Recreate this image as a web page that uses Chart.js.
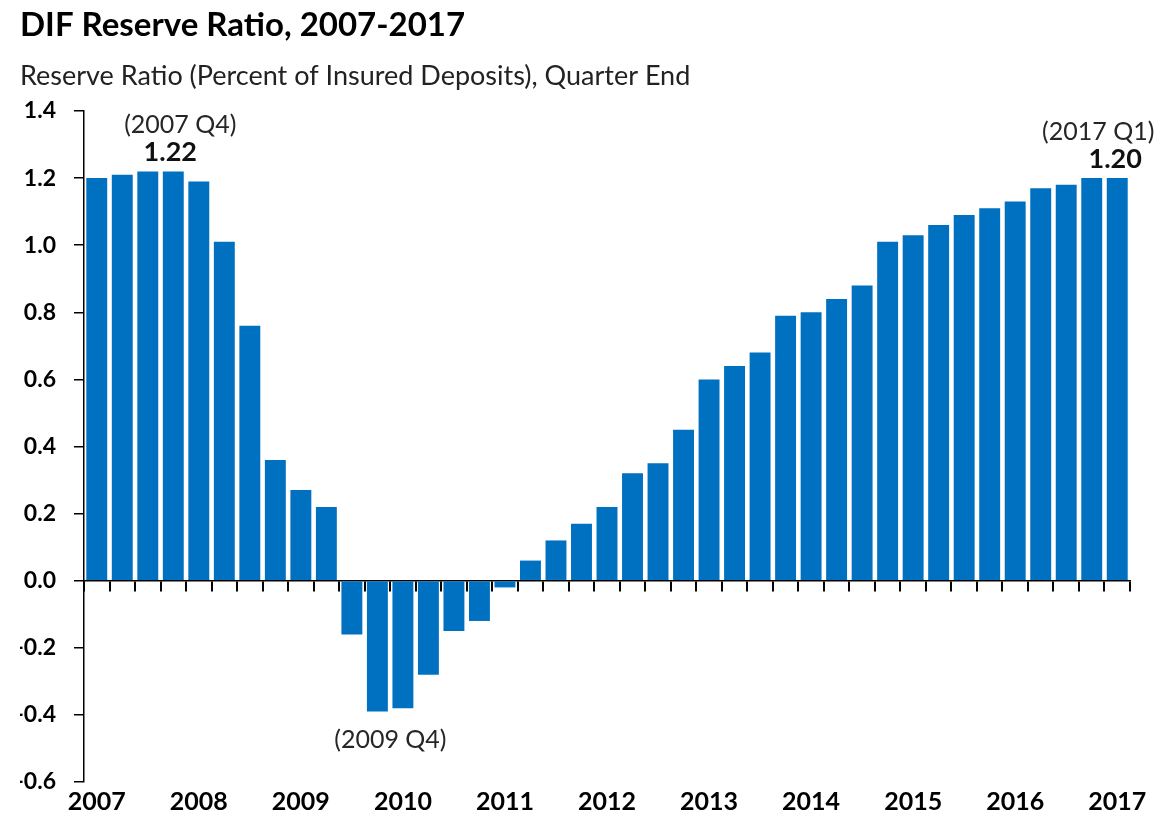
<!DOCTYPE html>
<html>
<head>
<meta charset="utf-8">
<title>DIF Reserve Ratio, 2007-2017</title>
<script src="https://cdn.jsdelivr.net/npm/chart.js@4.4.1/dist/chart.umd.min.js"></script>
<style>
  html, body { margin: 0; padding: 0; background: #fff; }
  #wrap { width: 1159px; height: 829px; position: relative; }
</style>
</head>
<body>
<div id="wrap"><canvas id="ratio-chart"></canvas></div>
<script>
// Quarter-end categories, 2007 Q1 .. 2017 Q1
const quarters = [
  '2007 Q1', '2007 Q2', '2007 Q3', '2007 Q4',
  '2008 Q1', '2008 Q2', '2008 Q3', '2008 Q4',
  '2009 Q1', '2009 Q2', '2009 Q3', '2009 Q4',
  '2010 Q1', '2010 Q2', '2010 Q3', '2010 Q4',
  '2011 Q1', '2011 Q2', '2011 Q3', '2011 Q4',
  '2012 Q1', '2012 Q2', '2012 Q3', '2012 Q4',
  '2013 Q1', '2013 Q2', '2013 Q3', '2013 Q4',
  '2014 Q1', '2014 Q2', '2014 Q3', '2014 Q4',
  '2015 Q1', '2015 Q2', '2015 Q3', '2015 Q4',
  '2016 Q1', '2016 Q2', '2016 Q3', '2016 Q4',
  '2017 Q1'
];

// Reserve ratio, percent of insured deposits
const reserveRatio = [
  1.20, 1.21, 1.22, 1.22,
  1.19, 1.01, 0.76, 0.36,
  0.27, 0.22, -0.16, -0.39,
  -0.38, -0.28, -0.15, -0.12,
  -0.02, 0.06, 0.12, 0.17,
  0.22, 0.32, 0.35, 0.45,
  0.60, 0.64, 0.68, 0.79,
  0.80, 0.84, 0.88, 1.01,
  1.03, 1.06, 1.09, 1.11,
  1.13, 1.17, 1.18, 1.20,
  1.20
];

// Y axis range / tick step
const yMin = -0.6;
const yMax = 1.4;
const yStep = 0.2;

// Callouts: which bar, the period text and (optionally) the value text
const callouts = [
  { index: 3, period: '(2007 Q4)', value: '1.22', side: 'top', dx: 7, valueDx: -3 },
  { index: 11, period: '(2009 Q4)', value: null, side: 'bottom', dx: 13, valueDx: 0 },
  { index: 40, period: '(2017 Q1)', value: '1.20', side: 'top', dx: -19, valueDx: -2 }
];

const FONT = 'Lato, "Open Sans", sans-serif';

// draws the period / value labels next to the highlighted bars
const calloutPlugin = {
  id: 'callouts',
  afterDatasetsDraw(chart) {
    const meta = chart.getDatasetMeta(0);
    const c = chart.ctx;
    c.save();
    c.textAlign = 'center';
    c.textBaseline = 'middle';
    callouts.forEach(item => {
      const bar = meta.data[item.index];
      if (!bar) return;
      const x = bar.x;
      if (item.side === 'top') {
        c.fillStyle = '#111';
        c.font = 'bold 27px ' + FONT;
        c.fillText(item.value, x + item.valueDx, bar.y - 19);
        c.fillStyle = '#262626';
        c.font = '25px ' + FONT;
        c.fillText(item.period, x + item.dx, bar.y - 19 - 27);
      } else {
        c.fillStyle = '#262626';
        c.font = '25px ' + FONT;
        c.fillText(item.period, x + item.dx, bar.y + 28);
      }
    });
    c.restore();
  }
};

const ctx = document.getElementById('ratio-chart').getContext('2d');

const chart = new Chart(ctx, {
  type: 'bar',
  data: {
    labels: quarters,
    datasets: [{
      label: 'Reserve Ratio',
      data: reserveRatio,
      backgroundColor: '#0070C0',
      borderWidth: 0,
      barPercentage: 0.82,
      categoryPercentage: 1.0,
      xAxisID: 'x',
      yAxisID: 'y'
    }]
  },
  options: {
    responsive: true,
    maintainAspectRatio: false,
    animation: false,
    layout: {
      padding: { left: 20, right: 29, top: 0, bottom: 7 }
    },
    plugins: {
      legend: { display: false },
      tooltip: { enabled: false },
      title: {
        display: true,
        text: 'DIF Reserve Ratio, 2007-2017',
        align: 'start',
        color: '#000',
        font: { family: FONT, size: 33, weight: 'bold' },
        padding: { top: 6, bottom: 14 }
      },
      subtitle: {
        display: true,
        text: 'Reserve Ratio (Percent of Insured Deposits), Quarter End',
        align: 'start',
        color: '#222',
        font: { family: FONT, size: 27 },
        padding: { top: 0, bottom: 19 }
      }
    },
    scales: {
      x: {
        type: 'category',
        position: 'bottom',
        offset: true,
        grid: { display: false, drawTicks: false },
        border: { display: false },
        ticks: {
          autoSkip: false,
          maxRotation: 0,
          padding: 5,
          color: '#000',
          font: { family: FONT, size: 25, weight: 'bold' },
          callback: (v, i) => quarters[i].endsWith('Q1') ? quarters[i].slice(0, 4) : ''
        }
      },
      // zero line with the quarter tick marks
      x2: {
        type: 'category',
        position: { y: 0 },
        offset: true,
        grid: {
          offset: true,
          drawOnChartArea: false,
          drawTicks: true,
          tickLength: 10,
          color: '#000',
          lineWidth: 2
        },
        border: { display: true, color: '#000', width: 1.5 },
        ticks: { display: false, autoSkip: false }
      },
      y: {
        min: yMin,
        max: yMax,
        grid: {
          drawOnChartArea: false,
          drawTicks: true,
          tickLength: 10,
          color: '#000',
          lineWidth: 1.5
        },
        border: { display: true, color: '#000', width: 1.5 },
        ticks: {
          stepSize: yStep,
          padding: 18,
          color: '#000',
          font: { family: FONT, size: 23, weight: 'bold' },
          callback: v => (Math.abs(v) < 1e-9 ? 0 : v).toFixed(1)
        },
        afterFit: scale => { scale.width = 64; }
      }
    }
  },
  plugins: [calloutPlugin]
});
</script>
</body>
</html>
